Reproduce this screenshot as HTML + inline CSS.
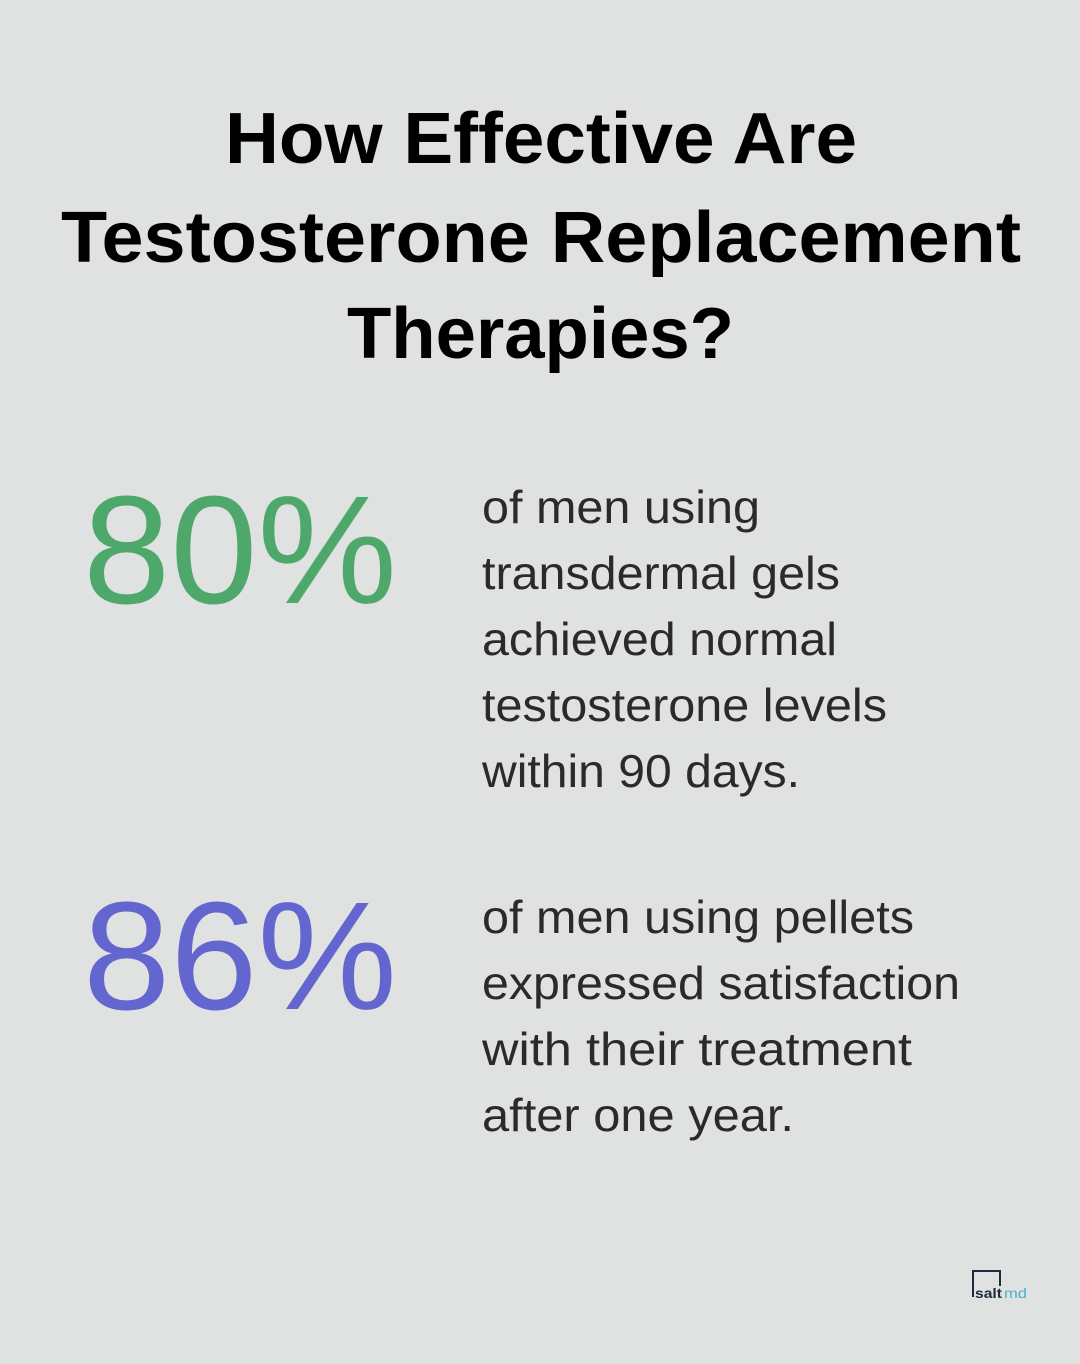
<!DOCTYPE html>
<html><head><style>
html,body{margin:0;padding:0;background:#e0e2e1;}
svg{display:block}
</style></head><body>
<svg width="1080" height="1364" viewBox="0 0 1080 1364" xmlns="http://www.w3.org/2000/svg">
<rect width="1080" height="1364" fill="#e0e2e1"/>
<g font-family="Liberation Sans, sans-serif" font-weight="bold" font-size="72" fill="#000" text-anchor="start">
<text x="225" y="163" textLength="632" lengthAdjust="spacingAndGlyphs">How Effective Are</text>
<text x="61" y="262" textLength="960" lengthAdjust="spacingAndGlyphs">Testosterone Replacement</text>
<text x="347" y="358" textLength="387" lengthAdjust="spacingAndGlyphs">Therapies?</text>
</g>
<g font-family="Liberation Sans, sans-serif" font-size="154">
<text x="83" y="603" fill="#4ea86b" textLength="314" lengthAdjust="spacingAndGlyphs">80%</text>
<text x="83" y="1009" fill="#6466d0" textLength="314" lengthAdjust="spacingAndGlyphs">86%</text>
</g>
<g font-family="Liberation Sans, sans-serif" font-size="46" fill="#2a2a2a">
<text x="482" y="523" textLength="278" lengthAdjust="spacingAndGlyphs">of men using</text>
<text x="482" y="589" textLength="358" lengthAdjust="spacingAndGlyphs">transdermal gels</text>
<text x="482" y="655" textLength="355" lengthAdjust="spacingAndGlyphs">achieved normal</text>
<text x="482" y="721" textLength="405" lengthAdjust="spacingAndGlyphs">testosterone levels</text>
<text x="482" y="787" textLength="318" lengthAdjust="spacingAndGlyphs">within 90 days.</text>
<text x="482" y="933" textLength="432" lengthAdjust="spacingAndGlyphs">of men using pellets</text>
<text x="482" y="999" textLength="478" lengthAdjust="spacingAndGlyphs">expressed satisfaction</text>
<text x="482" y="1065" textLength="430" lengthAdjust="spacingAndGlyphs">with their treatment</text>
<text x="482" y="1131" textLength="312" lengthAdjust="spacingAndGlyphs">after one year.</text>
</g>
<path d="M973 1297 V1271 H1000 V1286" fill="none" stroke="#1e2a3a" stroke-width="2"/>
<text x="975" y="1298" font-family="Liberation Sans, sans-serif" font-size="14" fill="#1e2a3a" font-weight="bold" textLength="27" lengthAdjust="spacingAndGlyphs">salt</text>
<text x="1004" y="1298" font-family="Liberation Sans, sans-serif" font-size="14" fill="#4bb3c4" textLength="23" lengthAdjust="spacingAndGlyphs">md</text>
</svg>
</body></html>
